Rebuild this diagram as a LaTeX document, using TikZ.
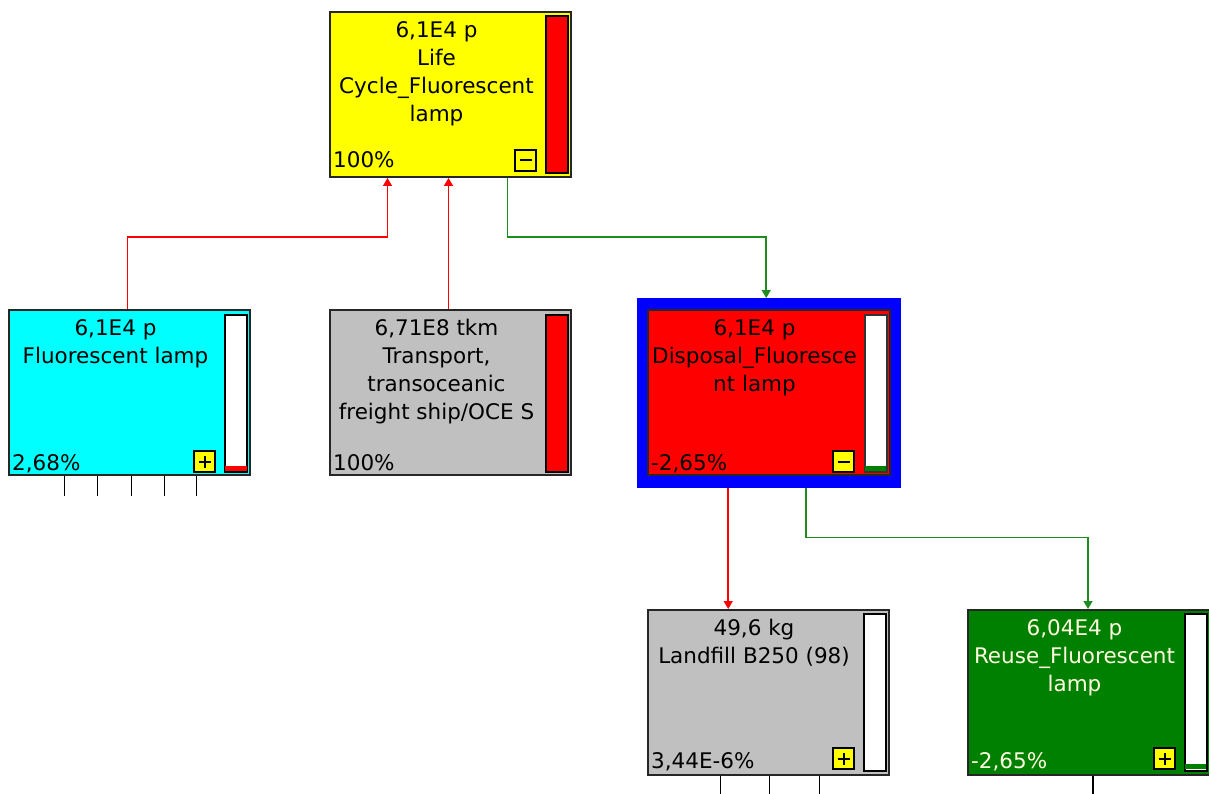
\documentclass[tikz,border=0pt]{standalone}
\usepackage{fontspec}
\setmainfont{DejaVu Sans}
\usetikzlibrary{arrows.meta}
\definecolor{gr}{HTML}{C0C0C0}
\definecolor{dgreen}{HTML}{008000}
\definecolor{lgreen}{HTML}{1E8C1E}
\definecolor{yel}{HTML}{FFFF00}
\definecolor{cya}{HTML}{00FFFF}
\definecolor{rd}{HTML}{FF0000}
\definecolor{bl}{HTML}{0000FF}
\begin{document}
\begin{tikzpicture}[x=1pt,y=-1pt,
  box/.style={draw=black!85, line width=2pt, anchor=north west, inner sep=0pt, minimum width=241pt, minimum height=165pt},
  bar/.style={draw=black, line width=2pt, anchor=north west, inner sep=0pt, minimum width=22pt, minimum height=157pt},
  txt/.style={font=\fontsize{21.5}{28}\selectfont, align=center, anchor=north, inner sep=0pt},
  pct/.style={font=\fontsize{21.5}{24}\selectfont, anchor=base west, inner sep=0pt},
  btn/.style={draw=black, line width=2pt, fill=yel, minimum size=21pt, inner sep=0pt, anchor=north west},
  sym/.style={line width=2pt, black},
  redl/.style={draw=rd, line width=1.5pt, -{Triangle[length=8pt,width=9pt]}},
  grnl/.style={draw=lgreen, line width=1.5pt, -{Triangle[length=8pt,width=9pt]}},
  stub/.style={draw=black, line width=1.5pt}
]
\useasboundingbox (0,0) rectangle (1209,794);
\clip (0,0) rectangle (1209,794);

% ---------- top box
\node[box, fill=yel] (life) at (329,11) {};
\node[bar, fill=rd] (lifebar) at (545,15) {};
\node[btn] (lifebtn) at (514,149) {};
\draw[sym] ([xshift=-6pt]lifebtn.center) -- ([xshift=6pt]lifebtn.center);
\node[txt] (lifet) at (436.5,21) {6,1E4 p\\Life\\Cycle\_Fluorescent\\lamp};
\node[pct] (lifep) at (333,168) {100\%};

% ---------- fluorescent lamp
\node[box, fill=cya] (fl) at (8,309) {};
\node[bar, fill=white] (flbar) at (224,314) {};
\fill[rd] (225,466) rectangle (247,471);
\node[btn] (flbtn) at (193,450) {};
\draw[sym] ([xshift=-6pt]flbtn.center) -- ([xshift=6pt]flbtn.center);
\draw[sym] ([yshift=-6pt]flbtn.center) -- ([yshift=6pt]flbtn.center);
\node[txt] (flt) at (115.5,319) {6,1E4 p\\Fluorescent lamp};
\node[pct] (flp) at (12,470) {2,68\%};
\foreach \s in {-65,-32,2,35,67}
  \draw[stub] ([xshift=\s pt]fl.south) -- ++(0,20);

% ---------- transport
\node[box, fill=gr] (tp) at (329,309) {};
\node[bar, fill=rd] (tpbar) at (545,314) {};
\node[txt] (tpt) at (436.5,319) {6,71E8 tkm\\Transport,\\transoceanic\\freight ship/OCE S};
\node[pct] (tpp) at (333,470) {100\%};

% ---------- disposal
\node[fill=bl, anchor=north west, inner sep=0pt, minimum width=264pt, minimum height=190pt] (dispo) at (637,298) {};
\node[box, fill=rd, minimum width=242pt] (disp) at (647,309) {};
\node[bar, fill=white, draw=black!80] (dispbar) at (864,314) {};
\fill[dgreen] (865,466) rectangle (886,471);
\node[btn] (dispbtn) at (832,450) {};
\draw[sym] ([xshift=-6pt]dispbtn.center) -- ([xshift=6pt]dispbtn.center);
\node[txt] (dispt) at (754.5,319) {6,1E4 p\\Disposal\_Fluoresce\\nt lamp};
\node[pct] (dispp) at (651,470) {-2,65\%};

% ---------- landfill
\node[box, fill=gr] (lf) at (647,609) {};
\node[bar, fill=white] (lfbar) at (863,613) {};
\node[btn] (lfbtn) at (832,747) {};
\draw[sym] ([xshift=-6pt]lfbtn.center) -- ([xshift=6pt]lfbtn.center);
\draw[sym] ([yshift=-6pt]lfbtn.center) -- ([yshift=6pt]lfbtn.center);
\node[txt] (lft) at (754,619) {49,6 kg\\Landfill B250 (98)};
\node[pct] (lfp) at (651,768) {3,44E-6\%};
\foreach \s in {-48,1,51}
  \draw[stub] ([xshift=\s pt]lf.south) -- ++(0,25);

% ---------- reuse
\node[box, fill=dgreen, minimum width=243pt] (ru) at (967,609) {};
\node[bar, fill=white] (rubar) at (1184,613) {};
\fill[dgreen] (1185,764) rectangle (1206,769);
\node[btn] (rubtn) at (1153,747) {};
\draw[sym] ([xshift=-6pt]rubtn.center) -- ([xshift=6pt]rubtn.center);
\draw[sym] ([yshift=-6pt]rubtn.center) -- ([yshift=6pt]rubtn.center);
\node[txt, text=white!88!yellow] (rut) at (1074.5,619) {6,04E4 p\\Reuse\_Fluorescent\\lamp};
\node[pct, text=white!88!yellow] (rup) at (971,768) {-2,65\%};
\draw[stub] ([xshift=3.5pt]ru.south) -- ++(0,25);

% ---------- connectors
\draw[redl] ([xshift=-2pt]fl.north) -- ++(0,-72) -| ([xshift=-63pt]life.south);
\draw[redl] ([xshift=-2pt]tp.north) -- ([xshift=-2pt]life.south);
\draw[grnl] ([xshift=57pt]life.south) -- ++(0,59) -| ([xshift=-3pt]dispo.north);
\draw[redl] ([xshift=-41pt]dispo.south) -- ([xshift=-41pt]dispo.south |- lf.north);
\draw[grnl] ([xshift=37pt]dispo.south) -- ++(0,49) -| ([xshift=-1.5pt]ru.north);
\end{tikzpicture}
\end{document}
